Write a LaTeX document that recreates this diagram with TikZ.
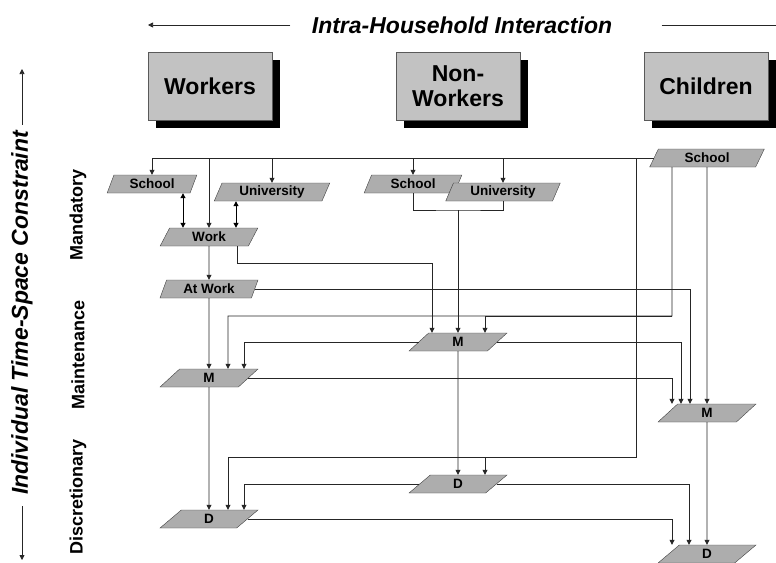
\documentclass[tikz,border=0pt]{standalone}
\usepackage{fontspec}
\setmainfont{Liberation Sans}
\usetikzlibrary{shapes.geometric, positioning, arrows.meta, shadows}
\tikzset{
 member/.style={draw=black!65, fill=black!24, minimum width=124, minimum height=68, inner sep=0pt, align=center,
  font=\bfseries\fontsize{23}{25}\selectfont, drop shadow={shadow xshift=8pt, shadow yshift=-8pt, fill=black, opacity=1}},
 act/.style={trapezium, trapezium left angle=68, trapezium right angle=112, trapezium stretches=true,
  draw=black!75, fill=black!32, minimum width=98, minimum height=18, inner sep=0pt, font=\bfseries\fontsize{13.5}{14}\selectfont},
 wire/.style={draw=black!85, line width=0.75pt},
 arr/.style={wire, -{Triangle[length=5pt,width=5pt]}},
 dbl/.style={draw=black, line width=1pt, {Triangle[length=5pt,width=5pt]}-{Triangle[length=5pt,width=5pt]}},
 heading/.style={font=\bfseries\itshape\fontsize{23}{25}\selectfont},
 tier/.style={rotate=90, font=\bfseries\fontsize{18}{19}\selectfont}
}

\begin{document}
\begin{tikzpicture}[x=1pt, y=-1pt]
 \useasboundingbox (0,0) rectangle (776,562);
 % household members
 \node[member] (workers) at (210,86) {Workers};
 \node[member] (nonworkers) at (458,86) {Non-\\Workers};
 \node[member] (children) at (706,86) {Children};
 % the two axes
 \node[heading] (inter) at (462,25) {Intra-Household Interaction};
 \coordinate (interL) at (148,25);
 \coordinate (interR) at (776,25);
 \draw[arr] ([xshift=-18pt]inter.west) -- (interL);
 \draw[wire] ([xshift=46pt]inter.east) -- (interR);
 \node[heading, rotate=90] (constr) at (22,313) {Individual Time-Space Constraint};
 \coordinate (constrT) at (22,69);
 \coordinate (constrB) at (22,560);
 \draw[arr] ([yshift=3pt]constr.east) -- (constrT);
 \draw[arr] ([yshift=-8pt]constr.west) -- (constrB);
 \foreach \lab/\yy in {Mandatory/215, Maintenance/355, Discretionary/497}
  {\node[tier] (\lab) at (78,\yy) {\lab};} % activity types
 % workers
 \node[act, minimum width=90] (SchW) at (152,184) {School};
 \node[act, minimum width=116] (UniW) at (272,192) {University};
 \node[act] (Work) at (209,237) {Work};
 \node[act] (AtWork) at (209,289) {At Work};
 \node[act] (MW) at (209,378) {M};
 \node[act] (DW) at (209,519) {D};
 % non-workers
 \node[act] (SchNW) at (413,184) {School};
 \node[act, minimum width=115] (UniNW) at (503,192) {University};
 \node[act] (MNW) at (458,342) {M};
 \node[act] (DNW) at (458,484) {D};
 % children
 \node[act, minimum width=115] (SchC) at (707,158) {School};
 \node[act] (MC) at (707,413) {M};
 \node[act] (DC) at (707,554) {D};
 % links from the children's school
 \foreach \n in {SchW, Work, UniW, SchNW, UniNW}
  {\draw[arr] (SchC.west) -| (\n);}
 \coordinate (dtap) at (636,457);
 \draw[arr] (SchC.west) -| (dtap) -| ([xshift=19pt]DW.north);
 \draw[arr] (dtap) -| ([xshift=27pt]DNW.north);
 \coordinate (mtap) at (672,316);
 \draw[arr] ([xshift=-35pt]SchC.south) -- (mtap) -| ([xshift=19pt]MW.north);
 \draw[arr] (mtap) -| ([xshift=27pt]MNW.north);
 \draw[arr] (SchC) -- (MC);
 \draw[arr] (MC) -- (DC);
 % links from the workers
 \draw[dbl] ([xshift=31pt]SchW.south) -- ([xshift=31pt]SchW.south |- Work.north);
 \draw[dbl] ([xshift=-36pt]UniW.south) -- ([xshift=-36pt]UniW.south |- Work.north);
 \draw[arr] (Work) -- (AtWork);
 \draw[arr] (AtWork) -- (MW);
 \draw[arr] ([xshift=28pt]Work.south) -- ++(0,17) -| ([xshift=-26pt]MNW.north);
 \draw[arr] (AtWork.east) -| ([xshift=-17pt]MC.north);
 \draw[arr] (MW) -- (DW);
 \draw[arr] (MW.east) -| ([xshift=-35pt]MC.north);
 % links from the non-workers
 \coordinate (nwjoin) at (458,210);
 \draw[wire] (SchNW.south) |- (nwjoin) -| (UniNW.south);
 \draw[arr] (nwjoin) -- (MNW);
 \draw[arr] (MNW.west) -| ([xshift=35pt]MW.north);
 \draw[arr] (MNW.east) -| ([xshift=-26pt]MC.north);
 \draw[arr] (MNW) -- (DNW);
 \draw[arr] (DNW.west) -| ([xshift=35pt]DW.north);
 \draw[arr] (DNW.east) -| ([xshift=-18pt]DC.north);
 \draw[arr] (DW.east) -| ([xshift=-35pt]DC.north);
\end{tikzpicture}
\end{document}
